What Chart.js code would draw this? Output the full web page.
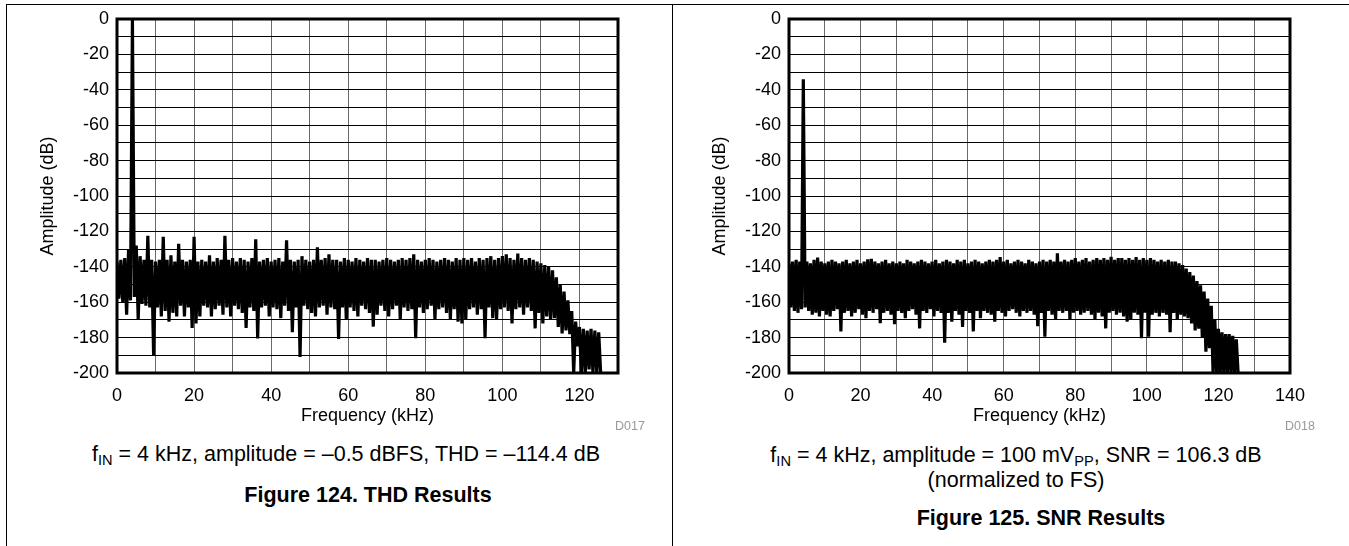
<!DOCTYPE html>
<html>
<head>
<meta charset="utf-8">
<script src="https://cdn.jsdelivr.net/npm/chart.js@4.4.1/dist/chart.umd.min.js"></script>
<style>
html,body{margin:0;padding:0;background:#fff;}
#page{position:relative;width:1349px;height:546px;overflow:hidden;font-family:"Liberation Sans",Arial,sans-serif;color:#000;background:#fff;}
.ln{position:absolute;background:#000;}
canvas{position:absolute;top:0;}
.txt{position:absolute;white-space:nowrap;line-height:1;transform:translateX(-50%);}
.cap{font-size:21.5px;}
.fig{font-size:21.5px;font-weight:bold;}
.did{position:absolute;white-space:nowrap;line-height:1;font-size:12.5px;color:#999;}
.sub{font-size:0.68em;position:relative;top:0.3em;}
</style>
</head>
<body>
<div id="page">
  <div class="ln" style="left:6px;top:4px;width:1343px;height:1px;"></div>
  <div class="ln" style="left:6px;top:4px;width:1px;height:542px;"></div>
  <div class="ln" style="left:672px;top:4px;width:1px;height:542px;"></div>

  <canvas id="thd" width="660" height="427" style="left:0px;width:660px;height:427px;"></canvas>
  <canvas id="snr" width="660" height="427" style="left:672px;width:660px;height:427px;"></canvas>

  <div class="did" style="left:615px;top:420px;">D017</div>
  <div class="did" style="left:1285px;top:420px;">D018</div>

  <div class="txt cap" style="left:346px;top:444px;">f<span class="sub">IN</span> = 4 kHz, amplitude = –0.5 dBFS, THD = –114.4 dB</div>
  <div class="txt fig" style="left:368px;top:485px;">Figure 124. THD Results</div>

  <div class="txt cap" style="left:1016px;top:445px;">f<span class="sub">IN</span> = 4 kHz, amplitude = 100 mV<span class="sub">PP</span>, SNR = 106.3 dB</div>
  <div class="txt cap" style="left:1016px;top:470px;">(normalized to FS)</div>
  <div class="txt fig" style="left:1041px;top:508px;">Figure 125. SNR Results</div>
</div>

<script>
// ---- Data (1 kHz bins, 0..125 kHz) ----
// Upper edge of the spectrum in each bin (dB)
const thdTop = [
  -137, -136, -135, -130, -0.5, -128, -134, -136, -122.5, -136,
  -137, -136, -123, -136, -133.5, -137, -127, -136, -137, -136,
  -123, -137, -136, -137, -133.5, -137, -135, -136, -122.5, -136,
  -135, -137, -135, -136, -137, -135, -124.5, -137, -136, -135,
  -137, -136, -135, -137, -125, -136, -137, -136, -134, -136,
  -137, -136, -129, -136, -135, -133, -136, -136, -137, -135,
  -136, -137, -135, -136, -137, -135, -136, -136, -137, -136,
  -135, -136, -137, -136, -135, -136, -135, -133, -136, -137,
  -136, -135, -136, -137, -136, -135, -136, -137, -135, -136,
  -135, -136, -135, -137, -135, -136, -135, -134, -136, -135,
  -134, -133, -135, -136, -132.5, -135, -136, -135, -136, -137,
  -138, -139, -140, -142, -146, -150, -154, -159, -165, -171,
  -174, -175, -176, -175, -176, -177
];
// Lower edge of the spectrum in each bin (dB)
const thdBottom = [
  -158, -160, -167, -159, -157, -170, -161, -162, -163, -190,
  -163, -168, -165, -171, -166, -168, -162, -168, -163, -174.5,
  -172, -168, -162, -163, -168, -164, -162, -167, -163, -168,
  -162, -164, -166, -174.5, -163, -165, -180.5, -163, -162, -168,
  -163, -164, -169, -162, -165, -177, -163, -191, -162, -164,
  -166, -168, -163, -162, -167, -163, -164, -180.7, -163, -170,
  -163, -165, -168, -162, -164, -166, -173.8, -167, -162, -165,
  -168, -164, -162, -170, -163, -165, -164, -180.4, -163, -166,
  -164, -162, -170, -164, -163, -166, -170, -164, -171, -172,
  -170, -164, -163, -167, -164, -180.4, -163, -169, -170, -164,
  -163, -165, -172, -164, -163, -167, -163, -165, -174.8, -166,
  -172, -168, -170, -169, -174, -177.6, -176, -178, -200, -185,
  -200, -200, -198, -200, -200, -200
];
const snrTop = [
  -138, -137, -136, -137, -34, -137, -138, -136, -134.8, -137,
  -138, -137, -136, -137, -138, -137, -136, -138, -137, -136,
  -138, -137, -135.7, -135.5, -137, -138, -137, -136, -138, -137,
  -138, -137, -138, -136, -137, -138, -137, -136, -137, -138,
  -137, -136, -138, -137, -136, -137, -138, -136, -137, -136,
  -138, -137, -136, -137, -138, -137, -136, -137, -136, -134.5,
  -137, -136, -138, -137, -136, -137, -138, -136, -137, -138,
  -137, -136, -137, -136, -137, -132.4, -137, -136, -137, -136,
  -135, -137, -136, -135, -137, -136, -135, -136, -135, -136,
  -134.3, -136, -135, -135, -136, -135, -136, -134.5, -136, -135,
  -136, -135, -136, -137, -136, -137, -136, -137, -137, -138,
  -139, -141, -143, -145, -148, -150.5, -154, -158, -162, -170,
  -175, -177, -178, -178, -179, -181
];
const snrBottom = [
  -163, -165, -166, -164, -163, -165, -167, -166, -168, -165,
  -167, -168, -165, -164, -176.6, -166, -165, -168, -166, -164,
  -167, -169, -165, -166, -164, -171.9, -166, -165, -167, -172.5,
  -165, -166, -169, -165, -164, -167, -174.8, -165, -166, -164,
  -168, -165, -166, -182.9, -166, -171, -165, -167, -174, -165,
  -166, -176.5, -165, -169, -165, -166, -167, -171, -165, -166,
  -168, -165, -164, -166, -168, -165, -166, -165, -167, -173.5,
  -166, -179.5, -165, -167, -170, -165, -166, -165, -170, -166,
  -165, -167, -166, -165, -167, -170, -166, -168, -174.8, -166,
  -165, -167, -166, -168, -171, -170, -166, -167, -180.4, -166,
  -179.5, -167, -166, -168, -166, -167, -177, -166, -170, -167,
  -168, -169, -172, -176, -175, -180, -188, -186, -200, -200,
  -200, -200, -200, -200, -200, -200
];
const binWidthKHz = 1;

// Axis ticks
const yTickValues = [0, -20, -40, -60, -80, -100, -120, -140, -160, -180, -200];
const yTickLabels = ['0', '-20', '-40', '-60', '-80', '-100', '-120', '-140', '-160', '-180', '-200'];
const thdXTickValues = [0, 20, 40, 60, 80, 100, 120];
const thdXTickLabels = ['0', '20', '40', '60', '80', '100', '120'];
const snrXTickValues = [0, 20, 40, 60, 80, 100, 120, 140];
const snrXTickLabels = ['0', '20', '40', '60', '80', '100', '120', '140'];

// Each bin is drawn as its upper edge then its lower edge, giving the dense trace
function spectrumPoints(top, bottom) {
  const pts = [];
  for (let i = 0; i < top.length; i++) {
    pts.push({ x: i * binWidthKHz, y: top[i] });
    pts.push({ x: (i + 0.5) * binWidthKHz, y: bottom[i] });
  }
  return pts;
}

const FONT = { family: '"Liberation Sans", Arial, sans-serif', size: 18 };

const frame = {
  id: 'frame',
  afterDraw(chart) {
    const { ctx, chartArea: a } = chart;
    ctx.save();
    ctx.strokeStyle = '#000';
    ctx.lineWidth = 3;
    ctx.strokeRect(a.left, a.top, a.right - a.left, a.bottom - a.top);
    ctx.restore();
  }
};

function makeChart(id, top, bottom, xMax, xVals, xLabels) {
  return new Chart(document.getElementById(id), {
    type: 'line',
    data: {
      datasets: [{
        data: spectrumPoints(top, bottom),
        borderColor: '#000',
        borderWidth: 3.2,
        borderJoinStyle: 'bevel',
        pointRadius: 0,
        tension: 0,
        fill: false
      }]
    },
    options: {
      responsive: false,
      animation: false,
      events: [],
      layout: { padding: { left: 0, right: 42, top: 19, bottom: 0 } },
      plugins: { legend: { display: false }, tooltip: { enabled: false }, title: { display: false } },
      scales: {
        x: {
          type: 'linear',
          min: 0,
          max: xMax,
          afterFit(s) { s.height = 54; },
          afterBuildTicks(s) {
            const t = [];
            for (let v = 0; v <= xMax; v += 10) t.push({ value: v });
            s.ticks = t;
          },
          ticks: {
            autoSkip: false,
            maxRotation: 0,
            padding: 12,
            color: '#000',
            font: FONT,
            callback(v) { const i = xVals.indexOf(v); return i >= 0 ? xLabels[i] : ''; }
          },
          grid: { color: '#6a6a6a', lineWidth: 1, drawTicks: false },
          border: { display: false },
          title: { display: true, text: 'Frequency (kHz)', color: '#000', font: FONT, padding: { top: 0, bottom: 0 } }
        },
        y: {
          type: 'linear',
          min: -200,
          max: 0,
          afterFit(s) { s.width = 117; },
          afterBuildTicks(s) {
            const t = [];
            for (let v = -200; v <= 0; v += 10) t.push({ value: v });
            s.ticks = t;
          },
          ticks: {
            autoSkip: false,
            padding: 8,
            color: '#000',
            font: FONT,
            callback(v) { const i = yTickValues.indexOf(v); return i >= 0 ? yTickLabels[i] : ''; }
          },
          grid: { color: '#000', lineWidth: 1, drawTicks: false },
          border: { display: false },
          title: { display: true, text: 'Amplitude (dB)', color: '#000', font: FONT, padding: { top: 37, bottom: 0 } }
        }
      }
    },
    plugins: [frame]
  });
}

makeChart('thd', thdTop, thdBottom, 130, thdXTickValues, thdXTickLabels);
makeChart('snr', snrTop, snrBottom, 140, snrXTickValues, snrXTickLabels);
</script>
</body>
</html>
